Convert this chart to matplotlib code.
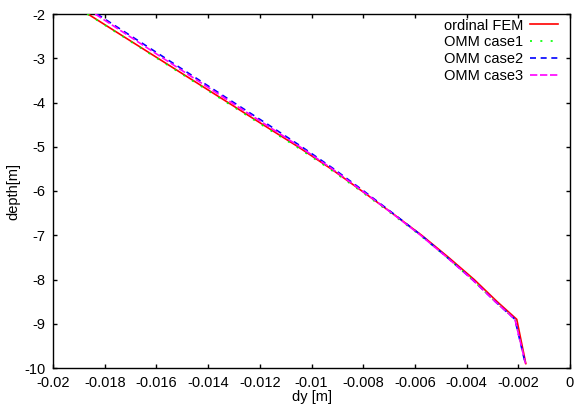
import matplotlib
matplotlib.use("Agg")
import matplotlib.pyplot as plt

plt.rcParams['font.family'] = ['Liberation Sans', 'DejaVu Sans']
plt.rcParams['axes.unicode_minus'] = False

depth = [-2, -3, -4, -4.5, -5, -5.5, -6, -6.5, -7, -7.5, -8, -8.5, -8.9, -9.9]
fem   = [-0.01865, -0.01594, -0.01323, -0.01188, -0.01052, -0.00924, -0.00805, -0.00688,
         -0.00574, -0.00470, -0.00371, -0.00282, -0.00206, -0.00171]
case1 = [-0.01867, -0.01598, -0.01328, -0.01194, -0.01058, -0.00930, -0.00810, -0.00693,
         -0.00580, -0.00476, -0.00378, -0.00289, -0.00212, -0.00172]
case2 = [-0.01830, -0.01565, -0.01301, -0.01168, -0.01038, -0.00914, -0.00798, -0.00686,
         -0.00576, -0.00475, -0.00378, -0.00289, -0.00213, -0.00173]
case3 = [-0.01837, -0.01574, -0.01310, -0.01177, -0.01045, -0.00920, -0.00803, -0.00689,
         -0.00578, -0.00476, -0.00378, -0.00289, -0.00213, -0.00172]

xticks = [-0.02, -0.018, -0.016, -0.014, -0.012, -0.01, -0.008, -0.006, -0.004, -0.002, 0]
xticklabels = ["-0.02", "-0.018", "-0.016", "-0.014", "-0.012", "-0.01", "-0.008",
               "-0.006", "-0.004", "-0.002", "0"]
yticks = [-2, -3, -4, -5, -6, -7, -8, -9, -10]
yticklabels = ["-2", "-3", "-4", "-5", "-6", "-7", "-8", "-9", "-10"]

fs = 10.5
fig = plt.figure(figsize=(5.79, 4.07), dpi=100)
ax = fig.add_axes([53/579, 1-368/407, (570-53)/579, (368-14)/407])

lw = 1.2
ax.plot(fem, depth, color='#ff0000', lw=lw, label='ordinal FEM', zorder=3)
ax.plot(case1, depth, color='#00ff00', lw=lw, linestyle=(0, (1.2, 5.0)), label='OMM case1', zorder=4)
ax.plot(case2, depth, color='#0000ff', lw=lw, linestyle=(0, (3.6, 2.8)), label='OMM case2', zorder=5)
ax.plot(case3, depth, color='#ff00ff', lw=lw, linestyle=(0, (4.4, 1.6)), label='OMM case3', zorder=6)

ax.set_xlim(-0.02, 0)
ax.set_ylim(-10, -2)
ax.set_xticks(xticks)
ax.set_xticklabels(xticklabels)
ax.set_yticks(yticks)
ax.set_yticklabels(yticklabels)
ax.tick_params(direction='in', length=3, width=1, top=True, right=True,
               labelsize=fs, pad=5.5, colors='black')
for s in ax.spines.values():
    s.set_linewidth(1.0)

ax.set_xlabel('dy [m]', fontsize=fs, labelpad=0)
ax.set_ylabel('depth[m]', fontsize=fs, labelpad=3)

leg = ax.legend(loc='upper right', frameon=False, markerfirst=False, fontsize=fs,
                handlelength=1.95, handletextpad=0.45, labelspacing=0.19,
                borderpad=0, borderaxespad=0,
                bbox_to_anchor=((558-53)/517, (368-18.5)/354))

fig.savefig('out.png', dpi=100)
